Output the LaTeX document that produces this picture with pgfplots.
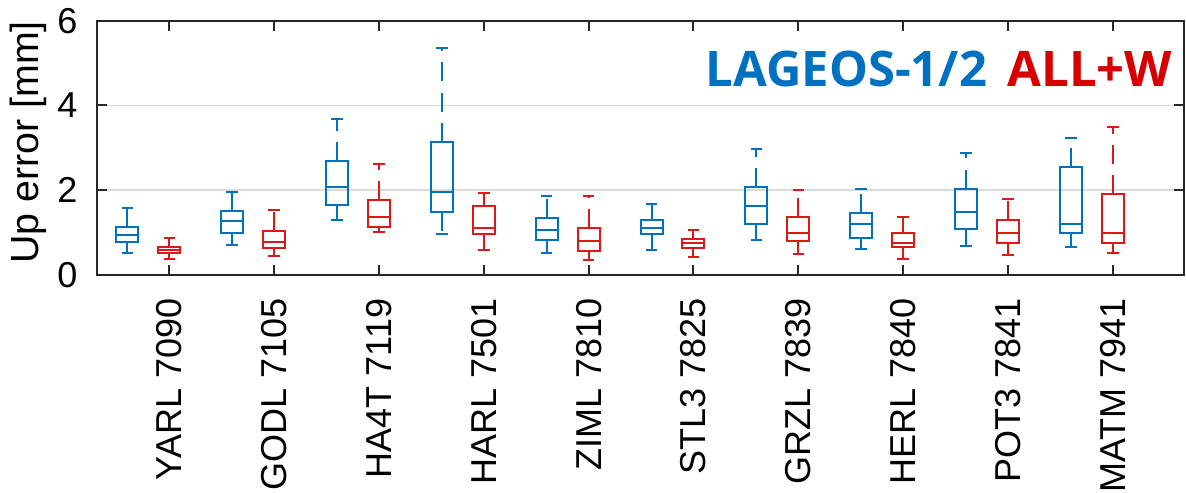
\documentclass[border=0pt]{standalone}
\usepackage{fontspec}
\setmainfont{Liberation Sans}
\newfontfamily\legfont{Open Sans}
\usepackage{pgfplots}
\pgfplotsset{compat=1.18}
\usepgfplotslibrary{statistics}
\definecolor{bblue}{RGB}{0,114,189}
\definecolor{rred}{RGB}{222,24,24}
\definecolor{tblue}{RGB}{0,112,192}
\definecolor{tred}{RGB}{214,0,0}
\definecolor{axgray}{RGB}{40,40,40}

\pgfplotsset{
  mybox/.style={line width=0.6pt, boxplot/draw direction=y,
    boxplot/box extend=0.21, boxplot/whisker extend=0.11},
  boxplot/draw/lower whisker/.code={%
    \draw[/pgfplots/boxplot/every whisker/.try, dash pattern=on 5.7pt off 3.4pt]
      (boxplot box cs:\pgfplotsboxplotvalue{lower quartile},0.5) --
      (boxplot box cs:\pgfplotsboxplotvalue{lower whisker},0.5);
    \draw[/pgfplots/boxplot/every whisker/.try]
      (boxplot whisker cs:\pgfplotsboxplotvalue{lower whisker},0) --
      (boxplot whisker cs:\pgfplotsboxplotvalue{lower whisker},1);
  },
  boxplot/draw/upper whisker/.code={%
    \draw[/pgfplots/boxplot/every whisker/.try, dash pattern=on 5.7pt off 3.4pt]
      (boxplot box cs:\pgfplotsboxplotvalue{upper quartile},0.5) --
      (boxplot box cs:\pgfplotsboxplotvalue{upper whisker},0.5);
    \draw[/pgfplots/boxplot/every whisker/.try]
      (boxplot whisker cs:\pgfplotsboxplotvalue{upper whisker},0) --
      (boxplot whisker cs:\pgfplotsboxplotvalue{upper whisker},1);
  },
}

\begin{document}
\begin{tikzpicture}
\begin{axis}[
  name=ax,
  scale only axis, width=326.25pt, height=76.3pt,
  xmin=0.305, xmax=10.68, ymin=0, ymax=6,
  xtick={1,...,10},
  xticklabels={YARL 7090, GODL 7105, HA4T 7119, HARL 7501, ZIML 7810,
    STL3 7825, GRZL 7839, HERL 7840, POT3 7841, MATM 7941},
  ytick={0,2,4,6},
  ymajorgrids, grid style={black!14, line width=0.5pt},
  tick align=inside, tick pos=both, major tick length=3pt,
  tick style={axgray, line width=0.6pt},
  axis line style={axgray, line width=0.6pt},
  /pgf/number format/assume math mode=true,
  tick label style={font=\fontsize{10.8}{12}\selectfont, inner sep=0pt},
  xticklabel style={rotate=90, anchor=east},
  xticklabel shift=6.9pt, yticklabel shift=5.5pt,
  every axis y label/.style={at={(axis description cs:-0.0455,0.521)},
    rotate=90, anchor=south, inner sep=0pt, font=\fontsize{11.8}{13}\selectfont},
  ylabel={Up error [mm]},
]
% YARL 7090
\addplot[bblue, mybox, boxplot prepared={draw position=0.6, lower whisker=0.51, lower quartile=0.79, median=0.94, upper quartile=1.14, upper whisker=1.57}] coordinates {};
\addplot[rred, mybox, boxplot prepared={draw position=1, lower whisker=0.37, lower quartile=0.52, median=0.60, upper quartile=0.66, upper whisker=0.87}] coordinates {};
% GODL 7105
\addplot[bblue, mybox, boxplot prepared={draw position=1.6, lower whisker=0.71, lower quartile=0.98, median=1.27, upper quartile=1.50, upper whisker=1.97}] coordinates {};
\addplot[rred, mybox, boxplot prepared={draw position=2, lower whisker=0.46, lower quartile=0.64, median=0.77, upper quartile=1.03, upper whisker=1.53}] coordinates {};
% HA4T 7119
\addplot[bblue, mybox, boxplot prepared={draw position=2.6, lower whisker=1.30, lower quartile=1.65, median=2.08, upper quartile=2.69, upper whisker=3.69}] coordinates {};
\addplot[rred, mybox, boxplot prepared={draw position=3, lower whisker=1.02, lower quartile=1.14, median=1.36, upper quartile=1.76, upper whisker=2.63}] coordinates {};
% HARL 7501
\addplot[bblue, mybox, boxplot prepared={draw position=3.6, lower whisker=0.96, lower quartile=1.49, median=1.96, upper quartile=3.14, upper whisker=5.36}] coordinates {};
\addplot[rred, mybox, boxplot prepared={draw position=4, lower whisker=0.60, lower quartile=0.96, median=1.12, upper quartile=1.63, upper whisker=1.93}] coordinates {};
% ZIML 7810
\addplot[bblue, mybox, boxplot prepared={draw position=4.6, lower whisker=0.51, lower quartile=0.83, median=1.06, upper quartile=1.34, upper whisker=1.86}] coordinates {};
\addplot[rred, mybox, boxplot prepared={draw position=5, lower whisker=0.35, lower quartile=0.57, median=0.81, upper quartile=1.10, upper whisker=1.87}] coordinates {};
% STL3 7825
\addplot[bblue, mybox, boxplot prepared={draw position=5.6, lower whisker=0.59, lower quartile=0.96, median=1.11, upper quartile=1.30, upper whisker=1.67}] coordinates {};
\addplot[rred, mybox, boxplot prepared={draw position=6, lower whisker=0.43, lower quartile=0.63, median=0.75, upper quartile=0.84, upper whisker=1.06}] coordinates {};
% GRZL 7839
\addplot[bblue, mybox, boxplot prepared={draw position=6.6, lower whisker=0.83, lower quartile=1.20, median=1.63, upper quartile=2.08, upper whisker=2.97}] coordinates {};
\addplot[rred, mybox, boxplot prepared={draw position=7, lower whisker=0.50, lower quartile=0.81, median=0.98, upper quartile=1.38, upper whisker=2.00}] coordinates {};
% HERL 7840
\addplot[bblue, mybox, boxplot prepared={draw position=7.6, lower whisker=0.61, lower quartile=0.88, median=1.20, upper quartile=1.47, upper whisker=2.04}] coordinates {};
\addplot[rred, mybox, boxplot prepared={draw position=8, lower whisker=0.38, lower quartile=0.65, median=0.75, upper quartile=1.00, upper whisker=1.38}] coordinates {};
% POT3 7841
\addplot[bblue, mybox, boxplot prepared={draw position=8.6, lower whisker=0.69, lower quartile=1.08, median=1.49, upper quartile=2.04, upper whisker=2.87}] coordinates {};
\addplot[rred, mybox, boxplot prepared={draw position=9, lower whisker=0.47, lower quartile=0.75, median=0.98, upper quartile=1.30, upper whisker=1.80}] coordinates {};
% MATM 7941
\addplot[bblue, mybox, boxplot prepared={draw position=9.6, lower whisker=0.67, lower quartile=0.98, median=1.20, upper quartile=2.54, upper whisker=3.24}] coordinates {};
\addplot[rred, mybox, boxplot prepared={draw position=10, lower whisker=0.53, lower quartile=0.76, median=0.99, upper quartile=1.90, upper whisker=3.48}] coordinates {};

\node[anchor=base west, inner sep=0pt, text=tblue, font=\legfont\bfseries\fontsize{14.7}{16}\selectfont] at (axis cs:6.11,4.44) {LAGEOS-1/2};
\node[anchor=base west, inner sep=0pt, text=tred, font=\legfont\bfseries\fontsize{14.7}{16}\selectfont] at (axis cs:8.99,4.44) {ALL+W};
\end{axis}
\path (ax.south west) ++(-28.95pt,-64.8pt) coordinate (bbl);
\path (ax.north east) ++(0.6pt,6.2pt) coordinate (bbr);
\path (bbl) rectangle (bbr);
\end{tikzpicture}
\end{document}
